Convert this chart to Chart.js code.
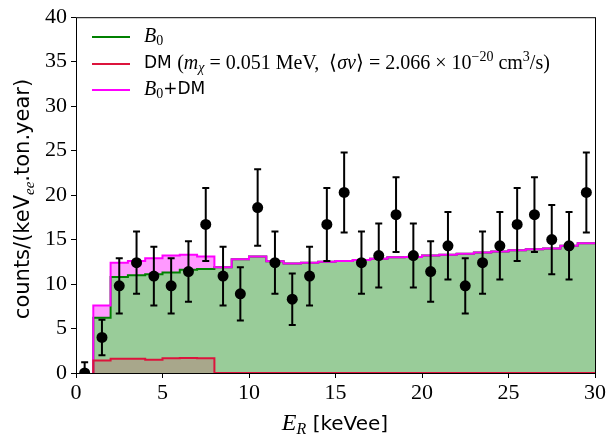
<!DOCTYPE html>
<html>
<head>
<meta charset="utf-8">
<script src="https://cdn.jsdelivr.net/npm/chart.js@4.4.0/dist/chart.umd.min.js"></script>
<style>
  body { margin: 0; background: #fff; }
  canvas { display: block; }
</style>
</head>
<body>
<canvas id="spectrum" width="608" height="438"></canvas>
<script>
// histogram bin edges, keVee
const binEdges = [1,2,3,4,5,6,7,8,9,10,11,12,13,14,15,16,17,18,19,20,21,22,23,24,25,26,27,28,29,30];
// one value per bin (1-2, 2-3, ... 29-30)
const b0Counts = [6.2,10.8,11.0,11.1,11.3,11.6,11.7,11.9,12.8,13.1,12.55,12.3,12.4,12.5,12.6,12.7,12.85,13.0,13.05,13.2,13.3,13.4,13.55,13.65,13.8,13.9,14.0,14.3,14.6];
const dmCounts = [1.4,1.6,1.6,1.5,1.65,1.7,1.65,0,0,0,0,0,0,0,0,0,0,0,0,0,0,0,0,0,0,0,0,0,0];
const totalCounts = [7.6,12.4,12.6,12.9,13.2,13.3,13.1,11.9,12.8,13.1,12.55,12.3,12.4,12.5,12.6,12.7,12.85,13.0,13.05,13.2,13.3,13.4,13.55,13.65,13.8,13.9,14.0,14.3,14.6];
// measured points
const dataE = [0.5,1.5,2.5,3.5,4.5,5.5,6.5,7.5,8.5,9.5,10.5,11.5,12.5,13.5,14.5,15.5,16.5,17.5,18.5,19.5,20.5,21.5,22.5,23.5,24.5,25.5,26.5,27.5,28.5,29.5];
const dataCounts = [0,4.0,9.8,12.4,10.9,9.8,11.4,16.7,10.9,8.9,18.6,12.4,8.3,10.9,16.7,20.3,12.4,13.2,17.8,13.2,11.4,14.3,9.8,12.4,14.3,16.7,17.8,15.0,14.3,20.3];
const dataErr = [1.2,2.0,3.1,3.5,3.3,3.1,3.4,4.1,3.3,3.0,4.3,3.5,2.9,3.3,4.1,4.5,3.5,3.6,4.2,3.6,3.4,3.8,3.1,3.5,3.8,4.1,4.2,3.9,3.8,4.5];

const SERIF = '"Liberation Serif", serif';
const SANS = '"DejaVu Sans", sans-serif';

function steps(vals) {
  const pts = [{x: binEdges[0], y: 0}];
  vals.forEach((v, i) => pts.push({x: binEdges[i], y: v}));
  pts.push({x: binEdges[binEdges.length - 1], y: vals[vals.length - 1]});
  return pts;
}

// draws a run of text pieces with different fonts / offsets
function drawRich(ctx, x, y, parts) {
  for (const p of parts) {
    ctx.font = p.f;
    ctx.fillText(p.t, x, y + (p.dy || 0));
    x += ctx.measureText(p.t).width;
  }
  return x;
}
function richWidth(ctx, parts) {
  let w = 0;
  for (const p of parts) { ctx.font = p.f; w += ctx.measureText(p.t).width; }
  return w;
}

const errorBars = {
  id: 'errorBars',
  beforeDatasetDraw(chart, args) {
    if (args.index !== 0) return;
    const {ctx, chartArea, scales} = chart;
    ctx.save();
    ctx.beginPath();
    ctx.rect(chartArea.left, chartArea.top, chartArea.right - chartArea.left, chartArea.bottom - chartArea.top);
    ctx.clip();
    ctx.strokeStyle = '#000';
    ctx.lineWidth = 2;
    dataE.forEach((e, i) => {
      const x = scales.x.getPixelForValue(e);
      const y1 = scales.y.getPixelForValue(dataCounts[i] - dataErr[i]);
      const y2 = scales.y.getPixelForValue(dataCounts[i] + dataErr[i]);
      ctx.beginPath();
      ctx.moveTo(x, y1); ctx.lineTo(x, y2);
      ctx.moveTo(x - 3.5, y1); ctx.lineTo(x + 3.5, y1);
      ctx.moveTo(x - 3.5, y2); ctx.lineTo(x + 3.5, y2);
      ctx.stroke();
    });
    ctx.restore();
  }
};

const decorations = {
  id: 'decorations',
  afterDraw(chart) {
    const {ctx, chartArea: a} = chart;
    ctx.save();
    // frame
    ctx.strokeStyle = '#000';
    ctx.lineWidth = 1;
    ctx.strokeRect(a.left + 0.5, a.top + 0.5, a.right - a.left, a.bottom - a.top);

    // legend
    const rows = [
      {c: '#008000', y: 37, parts: [{t: 'B', f: 'italic 20px ' + SERIF}, {t: '0', f: '14px ' + SERIF, dy: 4}]},
      {c: '#dc143c', y: 64, parts: [
        {t: 'DM ', f: '17px ' + SANS},
        {t: '(', f: '20px ' + SERIF},
        {t: 'm', f: 'italic 20px ' + SERIF},
        {t: 'χ', f: 'italic 14px ' + SERIF, dy: 4},
        {t: ' = 0.051 MeV,  ⟨', f: '20px ' + SERIF},
        {t: 'σv', f: 'italic 20px ' + SERIF},
        {t: '⟩ = 2.066 × 10', f: '20px ' + SERIF},
        {t: '−20', f: '14px ' + SERIF, dy: -7},
        {t: ' cm', f: '20px ' + SERIF},
        {t: '3', f: '14px ' + SERIF, dy: -7},
        {t: '/s)', f: '20px ' + SERIF}
      ]},
      {c: '#ff00ff', y: 90, parts: [{t: 'B', f: 'italic 20px ' + SERIF}, {t: '0', f: '14px ' + SERIF, dy: 4}, {t: '+DM', f: '17px ' + SANS}]}
    ];
    ctx.fillStyle = '#000';
    ctx.textBaseline = 'middle';
    ctx.textAlign = 'left';
    for (const r of rows) {
      ctx.strokeStyle = r.c;
      ctx.lineWidth = 2;
      ctx.beginPath();
      ctx.moveTo(92, r.y); ctx.lineTo(130, r.y);
      ctx.stroke();
      drawRich(ctx, 144, r.y, r.parts);
    }

    // x title
    ctx.textBaseline = 'alphabetic';
    const xt = [{t: 'E', f: 'italic 24px ' + SERIF}, {t: 'R', f: 'italic 16px ' + SERIF, dy: 4}, {t: ' [keVee]', f: '20px ' + SANS}];
    drawRich(ctx, 335 - richWidth(ctx, xt) / 2, 430, xt);

    // y title
    const yt = [{t: 'counts/(keV', f: '21px ' + SANS}, {t: 'ee', f: 'italic 15px ' + SERIF, dy: 5}, {t: '.ton.year)', f: '21px ' + SANS}];
    ctx.translate(29, 199);
    ctx.rotate(-Math.PI / 2);
    drawRich(ctx, -richWidth(ctx, yt) / 2, 0, yt);
    ctx.restore();
  }
};

new Chart(document.getElementById('spectrum'), {
  type: 'line',
  data: {
    datasets: [
      {
        label: 'data',
        data: dataE.map((e, i) => ({x: e, y: dataCounts[i]})),
        showLine: false,
        pointRadius: 5.5,
        pointHoverRadius: 5.5,
        pointBackgroundColor: '#000',
        pointBorderColor: '#000',
        pointBorderWidth: 0,
        clip: 0
      },
      {
        label: 'DM',
        data: steps(dmCounts),
        stepped: 'before',
        borderColor: '#dc143c',
        borderWidth: 2,
        pointRadius: 0,
        fill: 'origin',
        backgroundColor: '#a8a78b'
      },
      {
        label: 'B0+DM',
        data: steps(totalCounts),
        stepped: 'before',
        borderColor: '#ff00ff',
        borderWidth: 2,
        pointRadius: 0,
        fill: 3,
        backgroundColor: '#ff99ff'
      },
      {
        label: 'B0',
        data: steps(b0Counts),
        stepped: 'before',
        borderColor: '#008000',
        borderWidth: 2,
        pointRadius: 0,
        fill: 'origin',
        backgroundColor: '#99cc99'
      }
    ]
  },
  options: {
    responsive: false,
    animation: false,
    events: [],
    layout: { padding: { top: 13, right: 13, left: 0, bottom: 0 } },
    plugins: {
      legend: { display: false },
      tooltip: { enabled: false },
      filler: { drawTime: 'beforeDatasetsDraw' }
    },
    scales: {
      x: {
        type: 'linear',
        min: 0, max: 30,
        ticks: { stepSize: 5, color: '#000', font: { family: SERIF, size: 22 }, padding: 2, maxRotation: 0 },
        grid: { drawOnChartArea: false, drawTicks: true, tickLength: 5, color: '#000' },
        border: { display: false },
        afterFit(scale) { scale.height = 65; }
      },
      y: {
        min: 0, max: 40,
        ticks: { stepSize: 5, color: '#000', font: { family: SERIF, size: 22 }, padding: 4 },
        grid: { drawOnChartArea: false, drawTicks: true, tickLength: 5, color: '#000' },
        border: { display: false },
        afterFit(scale) { scale.width = 76; }
      }
    }
  },
  plugins: [errorBars, decorations]
});
</script>
</body>
</html>
